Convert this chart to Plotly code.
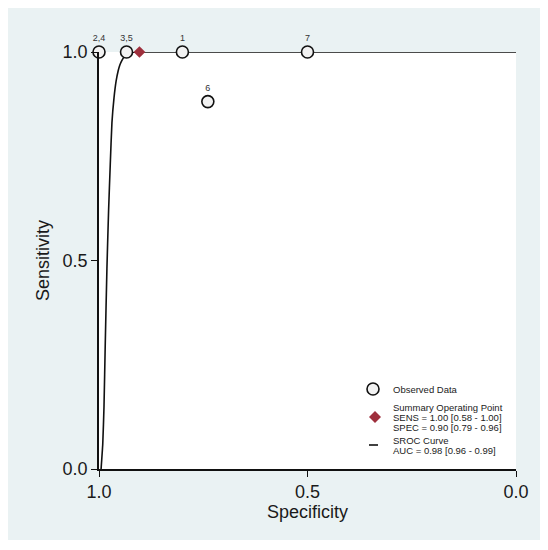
import plotly.graph_objects as go

# observed studies (labels merged where points overlap)
study_labels = ["1", "2,4", "3,5", "6", "7"]
study_spec = [0.80, 1.00, 0.934, 0.739, 0.50]
study_sens = [1.00, 1.00, 1.00, 0.881, 1.00]

# summary operating point
sum_spec = [0.903]
sum_sens = [1.00]

# SROC curve
sroc_spec = [0.995, 0.991, 0.988, 0.985, 0.981, 0.977, 0.973, 0.969, 0.964, 0.959, 0.954, 0.950, 0.945, 0.940, 0.935, 0.926, 0.915, 0.903, 0.0]
sroc_sens = [0.0, 0.06, 0.15, 0.30, 0.48, 0.62, 0.73, 0.83, 0.89, 0.93, 0.955, 0.969, 0.98, 0.988, 0.993, 0.998, 0.9995, 1.0, 1.0]

legend_lines = [
    ("Observed Data", 389),
    ("Summary Operating Point", 407),
    ("SENS = 1.00 [0.58 - 1.00]", 417),
    ("SPEC = 0.90 [0.79 - 0.96]", 427),
    ("SROC Curve", 440),
    ("AUC = 0.98 [0.96 - 0.99]", 450),
]

# the page puts the figure 8px in from the top-left corner
OFF = 8
W, H = 533, 532
L, R, T, B = 99 - OFF, 25, 52 - OFF, 71
PW, PH = W - L - R, H - T - B
font = "Liberation Sans, Arial, sans-serif"
bg = "#eaf2f3"


def px_x(px):
    return (px - OFF - L) / PW


def px_y(py):
    return (H - B - (py - OFF)) / PH


fig = go.Figure()

fig.add_trace(go.Scatter(x=sroc_spec, y=sroc_sens, mode="lines",
                         line=dict(color="#111111", width=1.6, shape="spline", smoothing=0.5),
                         cliponaxis=False, showlegend=False, hoverinfo="skip"))

fig.add_trace(go.Scatter(x=study_spec, y=study_sens, mode="markers+text",
                         text=study_labels, textposition="top center",
                         textfont=dict(family=font, size=9, color="#333333"),
                         marker=dict(symbol="circle", size=12, color="#f2f2f2",
                                     line=dict(color="#111111", width=1.6)),
                         cliponaxis=False, showlegend=False))

fig.add_trace(go.Scatter(x=sum_spec, y=sum_sens, mode="markers",
                         marker=dict(symbol="diamond", size=9, color="#9e2f3c",
                                     line=dict(width=0)),
                         cliponaxis=False, showlegend=False))

# hand-made legend
shapes = []
shapes.append(dict(type="circle", xref="paper", yref="paper",
                   xsizemode="pixel", ysizemode="pixel",
                   xanchor=px_x(373), yanchor=px_y(389),
                   x0=-6, x1=6, y0=-6, y1=6,
                   fillcolor="#f2f2f2", line=dict(color="#111111", width=1.6)))
shapes.append(dict(type="path", xref="paper", yref="paper",
                   xsizemode="pixel", ysizemode="pixel",
                   xanchor=px_x(375), yanchor=px_y(417),
                   path="M -6 0 L 0 6 L 6 0 L 0 -6 Z",
                   fillcolor="#9e2f3c", line=dict(width=0)))
shapes.append(dict(type="line", xref="paper", yref="paper",
                   x0=px_x(369), x1=px_x(378), y0=px_y(445), y1=px_y(445),
                   line=dict(color="#111111", width=1.6)))

annotations = []
for txt, py in legend_lines:
    annotations.append(dict(text=txt, xref="paper", yref="paper",
                            x=px_x(391), y=px_y(py), xanchor="left", yanchor="middle",
                            showarrow=False,
                            font=dict(family=font, size=9.5, color="#222222")))

axis_common = dict(showgrid=False, zeroline=False, showline=True, linecolor="#111111",
                   linewidth=1.6, ticks="outside", ticklen=6, tickcolor="#111111",
                   tickwidth=1.2, tickformat=".1f",
                   tickfont=dict(family=font, size=18, color="#1a1a1a"))

fig.update_layout(
    width=W, height=H,
    margin=dict(l=L, r=R, t=T, b=B, autoexpand=False),
    paper_bgcolor=bg, plot_bgcolor="white",
    xaxis=dict(range=[1, 0], tickvals=[1, 0.5, 0], autorange=False,
               title=dict(text="Specificity", standoff=0,
                          font=dict(family=font, size=18, color="#1a1a1a")),
               automargin=False, **axis_common),
    yaxis=dict(range=[0, 1], tickvals=[0, 0.5, 1], autorange=False,
               title=dict(text="Sensitivity", standoff=8,
                          font=dict(family=font, size=18, color="#1a1a1a")),
               automargin=False, **axis_common),
    shapes=shapes, annotations=annotations, showlegend=False,
)

fig.write_html("out.html")
